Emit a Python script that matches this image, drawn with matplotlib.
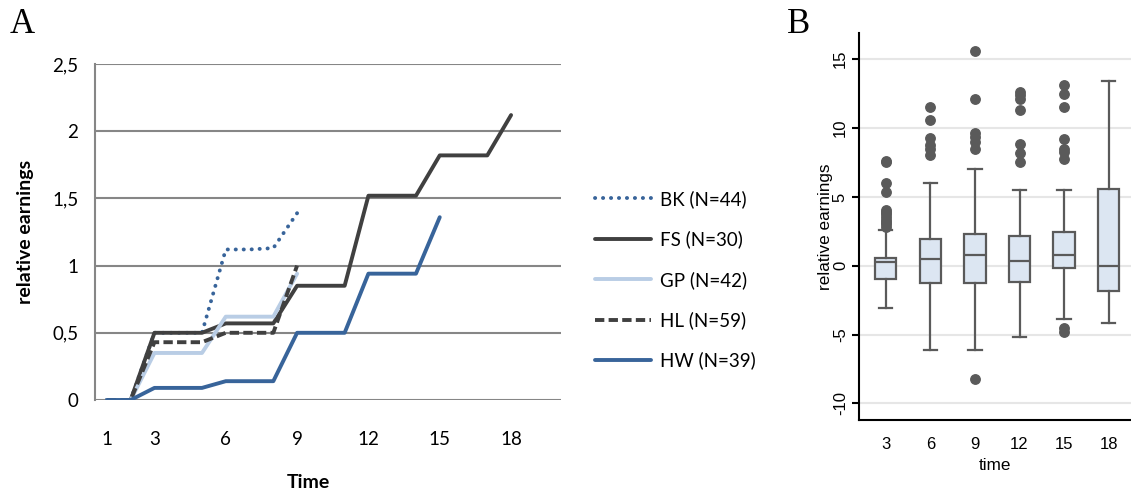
import matplotlib
matplotlib.use("Agg")
import matplotlib.pyplot as plt
import numpy as np

# ---------------- Panel A data ----------------
time_a = list(range(1, 19))
bk = [0, 0, 0.5, 0.5, 0.5, 1.12, 1.12, 1.13, 1.39]
fs = [0, 0, 0.5, 0.5, 0.5, 0.57, 0.57, 0.57, 0.85, 0.85, 0.85, 1.52, 1.52, 1.52, 1.82, 1.82, 1.82, 2.12]
gp = [0, 0, 0.35, 0.35, 0.35, 0.62, 0.62, 0.62, 0.94]
hl = [0, 0, 0.43, 0.43, 0.43, 0.5, 0.5, 0.5, 1.0]
hw = [0, 0, 0.09, 0.09, 0.09, 0.14, 0.14, 0.14, 0.5, 0.5, 0.5, 0.94, 0.94, 0.94, 1.36]
labels_a = ["BK (N=44)", "FS (N=30)", "GP (N=42)", "HL (N=59)", "HW (N=39)"]
xticks_a = [1, 3, 6, 9, 12, 15, 18]
yticks_a = [0, 0.5, 1, 1.5, 2, 2.5]
yticklabels_a = ["0", "0,5", "1", "1,5", "2", "2,5"]

# ---------------- Panel B data ----------------
times_b = ["3", "6", "9", "12", "15", "18"]
q1 = [-0.99, -1.28, -1.28, -1.16, -0.14, -1.81]
med = [0.29, 0.51, 0.80, 0.36, 0.80, 0.0]
q3 = [0.53, 1.91, 2.29, 2.17, 2.46, 5.60]
whislo = [-3.04, -6.11, -6.11, -5.14, -3.86, -4.13]
whishi = [2.63, 6.01, 7.00, 5.48, 5.48, 13.45]
fliers = [
    [2.83, 3.0, 3.19, 3.35, 3.55, 3.75, 3.91, 4.08, 5.35, 6.0, 7.54, 7.6],
    [8.02, 8.5, 8.8, 9.28, 10.6, 11.52],
    [8.45, 9.0, 9.35, 9.66, 12.08, 15.56, -8.21],
    [7.54, 8.21, 8.82, 11.33, 12.08, 12.37, 12.6],
    [7.78, 8.26, 8.5, 9.23, 11.52, 12.49, 13.09, -4.54, -4.78],
    [],
]
yticks_b = [-10, -5, 0, 5, 10, 15]

W, H = 1131, 492
fig = plt.figure(figsize=(W / 100, H / 100), dpi=100)

def fx(px):
    return px / W

def fy(py):
    return 1 - py / H

# ---------------- Panel A ----------------
axA = fig.add_axes([fx(95), fy(400), fx(561 - 95), (400 - 64) / H])
lw = 2.8
blue = "#38649A"
dark = "#404040"
light = "#B9CDE5"
lBK, = axA.plot(time_a[:len(bk)], bk, color=blue, lw=lw, linestyle=(0, (0.05, 2.0)),
                dash_capstyle="round", solid_capstyle="round")
lFS, = axA.plot(time_a[:len(fs)], fs, color=dark, lw=lw, solid_capstyle="round")
lGP, = axA.plot(time_a[:len(gp)], gp, color=light, lw=lw, solid_capstyle="round")
lHL, = axA.plot(time_a[:len(hl)], hl, color=dark, lw=lw, linestyle=(0, (2.4, 1.1)),
                dash_capstyle="butt")
lHW, = axA.plot(time_a[:len(hw)], hw, color=blue, lw=lw, solid_capstyle="round")

axA.set_xlim(0.5, 20.1)
axA.set_ylim(0, 2.5)
axA.set_yticks(yticks_a)
axA.set_yticklabels(yticklabels_a)
axA.set_xticks(xticks_a)
axA.set_xticklabels([str(t) for t in xticks_a])
for s in ["top", "right", "bottom"]:
    axA.spines[s].set_visible(False)
axA.spines["left"].set_color("#868686")
axA.spines["left"].set_linewidth(1.5)
axA.grid(axis="y", color="#868686", lw=1.5)
axA.set_axisbelow(True)
axA.tick_params(axis="both", length=0, labelsize=13.5, colors="black")
axA.tick_params(axis="y", pad=12)
axA.tick_params(axis="x", pad=22)
for t in axA.get_xticklabels() + axA.get_yticklabels():
    t.set_fontfamily("Lato")
axA.set_ylabel("relative earnings", fontfamily="Lato", fontweight="bold", fontsize=14)
axA.yaxis.set_label_coords((34 - 95) / (561 - 95), 0.5)
fig.text(fx(308), fy(482), "Time", fontfamily="Lato", fontweight="bold", fontsize=14,
         ha="center", va="center")

leg = fig.legend([lBK, lFS, lGP, lHL, lHW], labels_a, loc="upper left",
                 bbox_to_anchor=(fx(595), fy(190)), frameon=False,
                 handlelength=3.0, handletextpad=0.45, labelspacing=1.2,
                 prop={"family": "Lato", "size": 13.5}, borderaxespad=0, borderpad=0)

fig.text(fx(10), fy(8), "A", fontfamily="Liberation Serif", fontsize=25, ha="left", va="top")

# ---------------- Panel B ----------------
axB = fig.add_axes([fx(859), fy(420), fx(1131 - 859), (420 - 33) / H])
stats = []
for i in range(len(times_b)):
    stats.append(dict(q1=q1[i], med=med[i], q3=q3[i], whislo=whislo[i], whishi=whishi[i],
                      fliers=fliers[i], label=times_b[i]))
edge = "#5A5A5A"
axB.bxp(stats, positions=np.arange(1, len(times_b) + 1), widths=0.48, patch_artist=True,
        boxprops=dict(facecolor="#DCE6F2", edgecolor=edge, linewidth=1.6),
        medianprops=dict(color=edge, linewidth=1.6),
        whiskerprops=dict(color=edge, linewidth=1.6),
        capprops=dict(color=edge, linewidth=1.6),
        capwidths=0.3,
        flierprops=dict(marker="o", markerfacecolor=edge, markeredgecolor=edge, markersize=6.8))
axB.set_xlim(0.4, 6.5)
axB.set_ylim(-11.2, 16.9)
axB.set_yticks(yticks_b)
axB.set_yticklabels([str(v) for v in yticks_b], rotation=90, va="center")
for s in ["top", "right"]:
    axB.spines[s].set_visible(False)
for s in ["left", "bottom"]:
    axB.spines[s].set_color("black")
    axB.spines[s].set_linewidth(1.5)
axB.grid(axis="y", color="#E6E6E6", lw=1.5)
axB.set_axisbelow(True)
axB.tick_params(axis="x", length=0, pad=12, labelsize=12)
axB.tick_params(axis="y", length=5, width=1.5, pad=3, labelsize=12)
for t in axB.get_xticklabels() + axB.get_yticklabels():
    t.set_fontfamily("Liberation Sans")
axB.set_ylabel("relative earnings", fontfamily="Liberation Sans", fontsize=12.3)
axB.yaxis.set_label_coords((833 - 859) / (1131 - 859), 0.5)
axB.set_xlabel("time", fontfamily="Liberation Sans", fontsize=12.3)
axB.xaxis.set_label_coords(0.5, -(458 - 420) / (420 - 33))

fig.text(fx(787), fy(8), "B", fontfamily="Liberation Serif", fontsize=25, ha="left", va="top")

fig.savefig("out.png", dpi=100)
